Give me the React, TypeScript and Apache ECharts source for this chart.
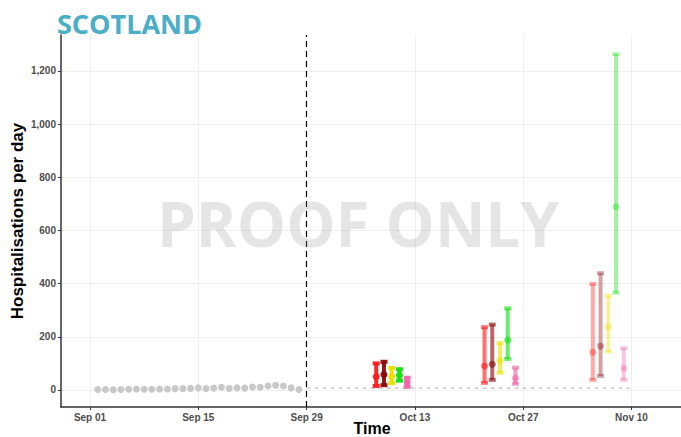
import React, { useEffect, useRef } from "react";
import * as echarts from "echarts";

// Days counted from Sep 01 (day 0)
const tickDays = [0, 14, 28, 42, 56, 70];
const tickLabels = ["Sep 01", "Sep 15", "Sep 29", "Oct 13", "Oct 27", "Nov 10"];
const yTicks = [0, 200, 400, 600, 800, 1000, 1200];

const observedDays = [1, 2, 3, 4, 5, 6, 7, 8, 9, 10, 11, 12, 13, 14, 15, 16, 17, 18, 19, 20, 21, 22, 23, 24, 25, 26, 27];
const observedValues = [2, 2, 1, 2, 3, 4, 3, 3, 4, 4, 5, 5, 6, 8, 5, 7, 10, 6, 8, 7, 11, 10, 15, 18, 15, 8, 2];

const cutoffDay = 28;
const baselineDays = [28, 69.8];
const baselineValues = [7, 7];

const projectionDays = [
  [37, 38, 39, 40, 41],
  [51, 52, 53, 54, 55],
  [65, 66, 67, 68, 69],
];
const projectionLow = [
  [15, 18, 26, 35, 12],
  [27, 38, 65, 117, 23],
  [38, 53, 144, 366, 38],
];
const projectionMid = [
  [50, 58, 50, 55, 28],
  [90, 97, 110, 188, 44],
  [142, 165, 238, 689, 82],
];
const projectionHigh = [
  [100, 106, 83, 78, 46],
  [236, 246, 176, 307, 84],
  [399, 439, 355, 1263, 157],
];
const scenarioColors = ["#ff1a1a", "#8b0a0a", "#e8e000", "#10e010", "#f064aa"];
const groupOpacity = [0.95, 0.62, 0.38];

export default function App() {
  const ref = useRef<HTMLDivElement>(null);

  useEffect(() => {
    const chart = echarts.init(ref.current!, null, { renderer: "svg" });

    const projData: number[][] = [];
    projectionDays.forEach((days, g) => {
      days.forEach((d, i) => {
        projData.push([d, projectionLow[g][i], projectionMid[g][i], projectionHigh[g][i], i, g]);
      });
    });

    const axisLabelStyle = {
      color: "#4d4d4d",
      fontFamily: "Liberation Sans, Arial, sans-serif",
      fontWeight: "bold" as const,
      fontSize: 10,
    };

    chart.setOption({
      animation: false,
      grid: { left: 61, right: 0, top: 35, bottom: 30, containLabel: false },
      xAxis: {
        type: "value",
        min: -3.75,
        max: 76.4,
        axisLine: { show: true, onZero: false, lineStyle: { color: "#333333", width: 1.5 } },
        axisTick: { show: true, length: 3, customValues: tickDays, lineStyle: { color: "#333333", width: 1 } },
        axisLabel: {
          ...axisLabelStyle,
          margin: 5,
          customValues: tickDays,
          formatter: (v: number) => {
            const i = tickDays.indexOf(Math.round(v));
            return i >= 0 ? tickLabels[i] : "";
          },
        },
        splitLine: { show: true, lineStyle: { color: "#efefef", width: 1 } },
      },
      yAxis: {
        type: "value",
        min: -64,
        max: 1335,
        axisLine: { show: true, onZero: false, lineStyle: { color: "#333333", width: 1.5 } },
        axisTick: { show: true, length: 3, customValues: yTicks, lineStyle: { color: "#333333", width: 1 } },
        axisLabel: {
          ...axisLabelStyle,
          margin: 5,
          customValues: yTicks,
          formatter: (v: number) => Math.round(v).toLocaleString("en-US"),
        },
        splitLine: { show: true, lineStyle: { color: "#efefef", width: 1 } },
      },
      graphic: [
        {
          type: "text",
          x: 57,
          y: 23,
          style: {
            text: "SCOTLAND",
            fill: "#4aaec8",
            font: "bold 27px 'Open Sans', Lato, sans-serif",
            verticalAlign: "middle",
          },
        },
        {
          type: "text",
          x: 17,
          y: 221,
          rotation: Math.PI / 2,
          style: {
            text: "Hospitalisations per day",
            fill: "#000000",
            font: "bold 17px 'Liberation Sans', Arial, sans-serif",
            align: "center",
            verticalAlign: "middle",
          },
        },
        {
          type: "text",
          x: 372,
          y: 428,
          style: {
            text: "Time",
            fill: "#000000",
            font: "bold 16px 'Liberation Sans', Arial, sans-serif",
            align: "center",
            verticalAlign: "middle",
          },
        },
        {
          type: "text",
          x: 358,
          y: 223,
          z: 100,
          style: {
            text: "PROOF ONLY",
            fill: "rgba(153,153,153,0.25)",
            font: "bold 62px 'Open Sans', Lato, sans-serif",
            align: "center",
            verticalAlign: "middle",
          },
        },
      ],
      series: [
        {
          type: "line",
          data: baselineDays.map((d, i) => [d, baselineValues[i]]),
          showSymbol: false,
          lineStyle: { color: "#b0b0b0", width: 1, type: [4, 4] },
          z: 1,
          markLine: {
            silent: true,
            symbol: "none",
            label: { show: false },
            lineStyle: { color: "#000000", width: 1.2, type: [6, 4] },
            data: [{ xAxis: cutoffDay }],
          },
        },
        {
          type: "scatter",
          data: observedDays.map((d, i) => [d, observedValues[i]]),
          symbolSize: 7,
          itemStyle: { color: "#c8c8c8", opacity: 1 },
          z: 3,
        },
        {
          type: "custom",
          data: projData,
          z: 4,
          renderItem: (_params: any, api: any) => {
            const x = api.value(0);
            const lo = api.coord([x, api.value(1)]);
            const mid = api.coord([x, api.value(2)]);
            const hi = api.coord([x, api.value(3)]);
            const color = scenarioColors[api.value(4)];
            const op = groupOpacity[api.value(5)];
            const style = { fill: color, opacity: op };
            return {
              type: "group",
              children: [
                { type: "rect", shape: { x: lo[0] - 2, y: hi[1], width: 4, height: lo[1] - hi[1] }, style },
                { type: "rect", shape: { x: lo[0] - 3.5, y: hi[1] - 2, width: 7, height: 4 }, style },
                { type: "rect", shape: { x: lo[0] - 3.5, y: lo[1] - 2, width: 7, height: 4 }, style },
                { type: "circle", shape: { cx: mid[0], cy: mid[1], r: 3.5 }, style },
              ],
            };
          },
        },
      ],
    });

    return () => chart.dispose();
  }, []);

  return (
    <div
      ref={ref}
      style={{ position: "absolute", left: 0, top: 0, width: 681, height: 437, background: "#ffffff" }}
    />
  );
}
